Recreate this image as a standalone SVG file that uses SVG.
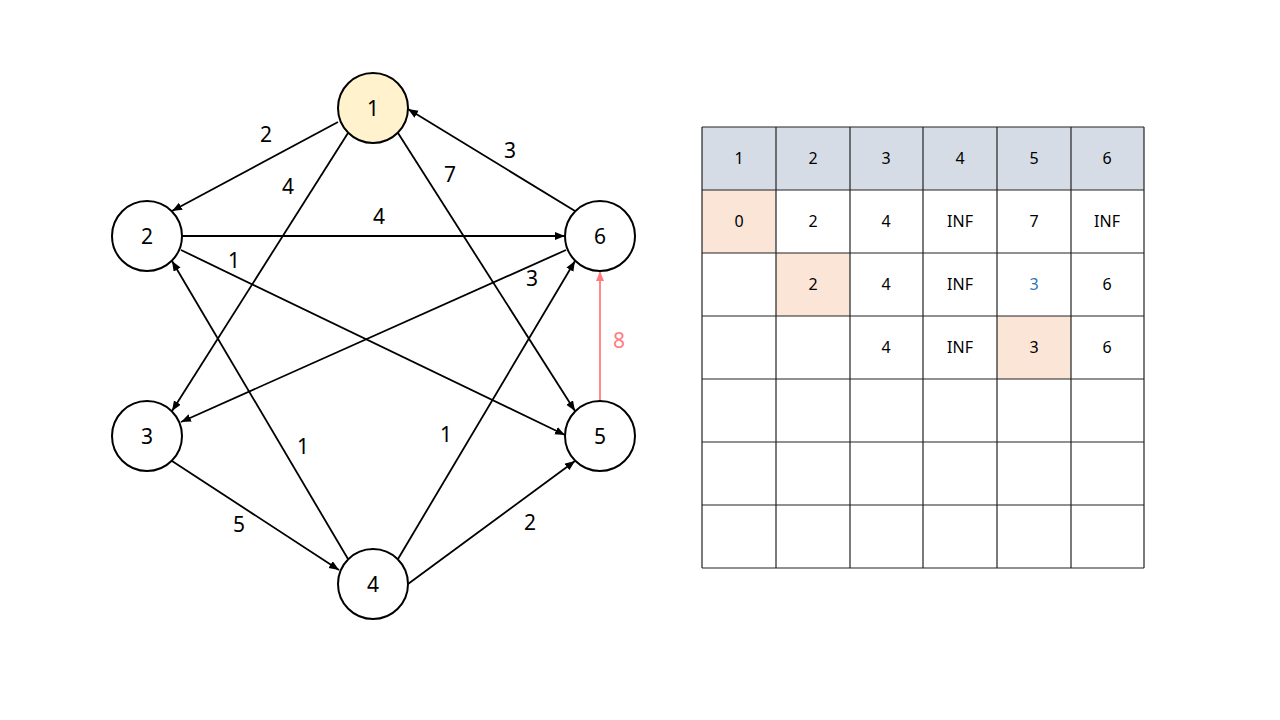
<svg xmlns="http://www.w3.org/2000/svg" width="1280" height="720" viewBox="0 0 1280 720">
<defs>
<marker id="ah" markerUnits="userSpaceOnUse" markerWidth="11" markerHeight="9" refX="10" refY="4" orient="auto">
<path d="M0,0 L10,4 L0,8 z" fill="#000"/>
</marker>
<marker id="ahr" markerUnits="userSpaceOnUse" markerWidth="11" markerHeight="9" refX="10" refY="4" orient="auto">
<path d="M0,0 L10,4 L0,8 z" fill="#FF7C80"/>
</marker>
<style>
.n{fill:#fff;stroke:#000;stroke-width:2}
.t{font-family:"Noto Sans","Liberation Sans",sans-serif;font-size:21px;fill:#000;text-anchor:middle;dominant-baseline:central}
.e{stroke:#000;stroke-width:1.8;fill:none;marker-end:url(#ah)}
.el{font-family:"Noto Sans","Liberation Sans",sans-serif;font-size:21px;fill:#000;text-anchor:middle;dominant-baseline:central}
.c{stroke:#222;stroke-width:1.2;fill:#fff}
.h{fill:#D6DCE5}
.p{fill:#FBE5D6}
.tt{font-family:"Noto Sans","Liberation Sans",sans-serif;font-size:16px;fill:#000;text-anchor:middle;dominant-baseline:central}
</style>
</defs>
<rect width="1280" height="720" fill="#fff"/>
<g id="connectors">
<line class="e" x1="338" y1="122" x2="172" y2="211"/>
<line class="e" x1="348" y1="133" x2="172" y2="411"/>
<line class="e" x1="398" y1="133" x2="575" y2="411"/>
<line class="e" x1="575" y1="211" x2="408" y2="109"/>
<line class="e" x1="182" y1="236" x2="565" y2="236"/>
<line class="e" x1="181" y1="250" x2="565" y2="435"/>
<line class="e" x1="566" y1="250" x2="181" y2="422"/>
<line class="e" x1="348" y1="559" x2="172" y2="261"/>
<line class="e" x1="398" y1="559" x2="575" y2="261"/>
<line class="e" x1="172" y1="461" x2="339" y2="570"/>
<line class="e" x1="408" y1="584" x2="575" y2="461"/>
<line x1="600" y1="401" x2="600" y2="271" stroke="#FF7C80" stroke-width="1.8" marker-end="url(#ahr)"/>
<text class="el" x="266" y="134">2</text>
<text class="el" x="288" y="186">4</text>
<text class="el" x="450" y="174">7</text>
<text class="el" x="510" y="150">3</text>
<text class="el" x="379" y="216">4</text>
<text class="el" x="234" y="260">1</text>
<text class="el" x="532" y="278">3</text>
<text class="el" x="619" y="340" fill="#FF7C80" style="fill:#FF7C80">8</text>
<text class="el" x="303" y="446">1</text>
<text class="el" x="446" y="434">1</text>
<text class="el" x="239" y="524">5</text>
<text class="el" x="530" y="522">2</text>
</g>
<g id="node1"><circle class="n" cx="373" cy="108" r="35" style="fill:#FFF2CC"/><text class="t" x="373" y="108">1</text></g>
<g id="node2"><circle class="n" cx="147" cy="236" r="35"/><text class="t" x="147" y="236">2</text></g>
<g id="node3"><circle class="n" cx="147" cy="436" r="35"/><text class="t" x="147" y="436">3</text></g>
<g id="node4"><circle class="n" cx="373" cy="584" r="35"/><text class="t" x="373" y="584">4</text></g>
<g id="node5"><circle class="n" cx="600" cy="436" r="35"/><text class="t" x="600" y="436">5</text></g>
<g id="node6"><circle class="n" cx="600" cy="236" r="35"/><text class="t" x="600" y="236">6</text></g>
<g id="table">
<rect x="702" y="127" width="442" height="63" class="h"/>
<rect x="702" y="190" width="74" height="63" class="p"/>
<rect x="776" y="253" width="74" height="63" class="p"/>
<rect x="997" y="316" width="74" height="63" class="p"/>
<g stroke="#222" stroke-width="1.2">
<line x1="702" y1="127" x2="1144" y2="127"/>
<line x1="702" y1="190" x2="1144" y2="190"/>
<line x1="702" y1="253" x2="1144" y2="253"/>
<line x1="702" y1="316" x2="1144" y2="316"/>
<line x1="702" y1="379" x2="1144" y2="379"/>
<line x1="702" y1="442" x2="1144" y2="442"/>
<line x1="702" y1="505" x2="1144" y2="505"/>
<line x1="702" y1="568" x2="1144" y2="568"/>
<line x1="702" y1="127" x2="702" y2="568"/>
<line x1="776" y1="127" x2="776" y2="568"/>
<line x1="850" y1="127" x2="850" y2="568"/>
<line x1="923" y1="127" x2="923" y2="568"/>
<line x1="997" y1="127" x2="997" y2="568"/>
<line x1="1071" y1="127" x2="1071" y2="568"/>
<line x1="1144" y1="127" x2="1144" y2="568"/>
</g>
<text class="tt" x="739" y="158">1</text>
<text class="tt" x="813" y="158">2</text>
<text class="tt" x="886" y="158">3</text>
<text class="tt" x="960" y="158">4</text>
<text class="tt" x="1034" y="158">5</text>
<text class="tt" x="1107" y="158">6</text>
<text class="tt" x="739" y="221">0</text>
<text class="tt" x="813" y="221">2</text>
<text class="tt" x="886" y="221">4</text>
<text class="tt" x="960" y="221">INF</text>
<text class="tt" x="1034" y="221">7</text>
<text class="tt" x="1107" y="221">INF</text>
<text class="tt" x="813" y="284">2</text>
<text class="tt" x="886" y="284">4</text>
<text class="tt" x="960" y="284">INF</text>
<text class="tt" x="1034" y="284" style="fill:#2E75B6">3</text>
<text class="tt" x="1107" y="284">6</text>
<text class="tt" x="886" y="347">4</text>
<text class="tt" x="960" y="347">INF</text>
<text class="tt" x="1034" y="347">3</text>
<text class="tt" x="1107" y="347">6</text>
</g>
</svg>
